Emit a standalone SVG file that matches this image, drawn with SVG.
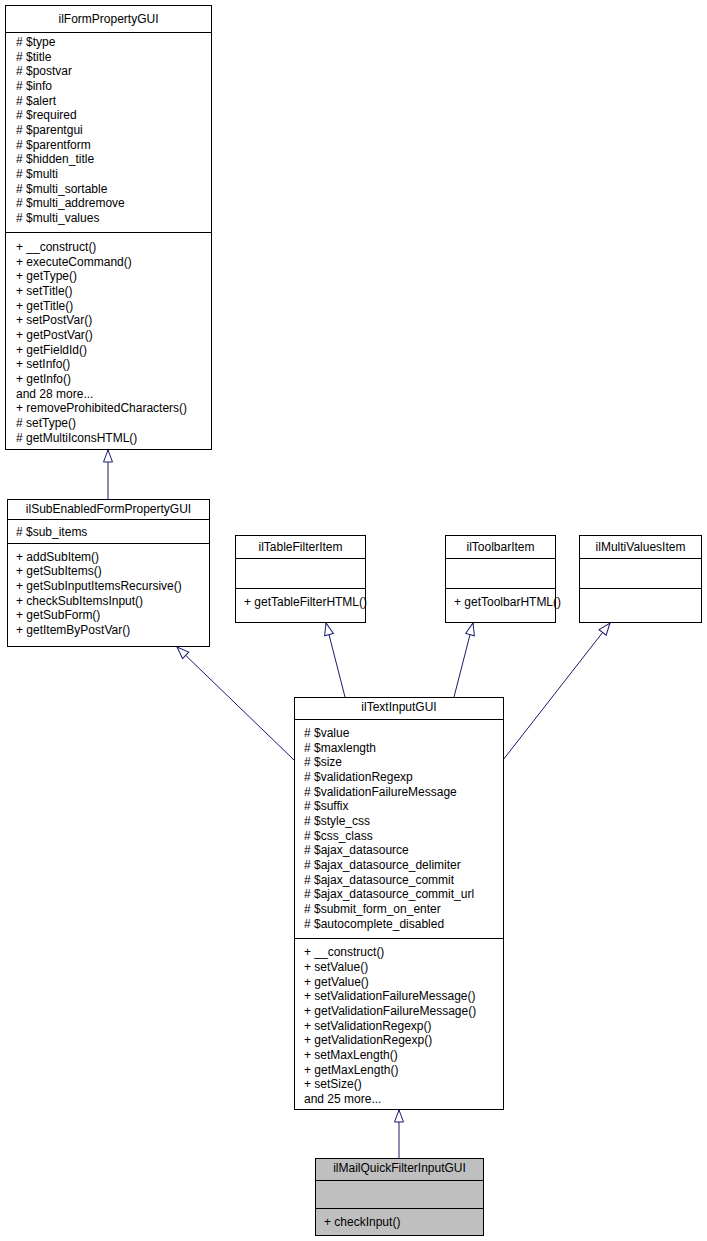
<svg xmlns="http://www.w3.org/2000/svg" width="707" height="1241" viewBox="0 0 707 1241">
<style>
.b{fill:#fff;stroke:#000;stroke-width:1}
.g{fill:#bfbfbf;stroke:#000;stroke-width:1}
text{font-family:"Liberation Sans",Arial,sans-serif;font-size:12px;fill:#000}
.c{text-anchor:middle}
.e{fill:none;stroke:#191970;stroke-width:1}
</style>
<defs>
<marker id="tri" markerUnits="userSpaceOnUse" markerWidth="14" markerHeight="12" refX="13" refY="5.5" orient="auto">
<path d="M1,1 L13,5.5 L1,10 Z" fill="#fff" stroke="#191970" stroke-width="1"/>
</marker>
</defs>
<g id="edges">
<path class="e" d="M108,499 L108,450" marker-end="url(#tri)"/>
<path class="e" d="M294,760 L177,647" marker-end="url(#tri)"/>
<path class="e" d="M345,697 L326,623" marker-end="url(#tri)"/>
<path class="e" d="M454,697 L473,623" marker-end="url(#tri)"/>
<path class="e" d="M503,760 L610,623" marker-end="url(#tri)"/>
<path class="e" d="M399,1158 L399,1110" marker-end="url(#tri)"/>
</g>
<g id="ilFormPropertyGUI">
<rect class="b" x="5.5" y="5.5" width="206" height="444"/>
<line x1="5.5" y1="32.5" x2="211.5" y2="32.5" stroke="#000"/>
<line x1="5.5" y1="232.5" x2="211.5" y2="232.5" stroke="#000"/>
<text class="c" x="108.5" y="23">ilFormPropertyGUI</text>
<text x="16" y="46"># $type</text>
<text x="16" y="61"># $title</text>
<text x="16" y="75"># $postvar</text>
<text x="16" y="90"># $info</text>
<text x="16" y="105"># $alert</text>
<text x="16" y="119"># $required</text>
<text x="16" y="134"># $parentgui</text>
<text x="16" y="149"># $parentform</text>
<text x="16" y="163"># $hidden_title</text>
<text x="16" y="178"># $multi</text>
<text x="16" y="193"># $multi_sortable</text>
<text x="16" y="207"># $multi_addremove</text>
<text x="16" y="222"># $multi_values</text>
<text x="16" y="251">+ __construct()</text>
<text x="16" y="266">+ executeCommand()</text>
<text x="16" y="280">+ getType()</text>
<text x="16" y="295">+ setTitle()</text>
<text x="16" y="310">+ getTitle()</text>
<text x="16" y="324">+ setPostVar()</text>
<text x="16" y="339">+ getPostVar()</text>
<text x="16" y="354">+ getFieldId()</text>
<text x="16" y="368">+ setInfo()</text>
<text x="16" y="383">+ getInfo()</text>
<text x="16" y="398">and 28 more...</text>
<text x="16" y="412">+ removeProhibitedCharacters()</text>
<text x="16" y="427"># setType()</text>
<text x="16" y="442"># getMultiIconsHTML()</text>
</g>
<g id="ilSubEnabledFormPropertyGUI">
<rect class="b" x="7.5" y="499.5" width="202" height="147"/>
<line x1="7.5" y1="519.5" x2="209.5" y2="519.5" stroke="#000"/>
<line x1="7.5" y1="543.5" x2="209.5" y2="543.5" stroke="#000"/>
<text class="c" x="108.5" y="513">ilSubEnabledFormPropertyGUI</text>
<text x="16" y="536"># $sub_items</text>
<text x="16" y="561">+ addSubItem()</text>
<text x="16" y="575">+ getSubItems()</text>
<text x="16" y="590">+ getSubInputItemsRecursive()</text>
<text x="16" y="605">+ checkSubItemsInput()</text>
<text x="16" y="619">+ getSubForm()</text>
<text x="16" y="634">+ getItemByPostVar()</text>
</g>
<g id="ilTableFilterItem">
<rect class="b" x="235.5" y="535.5" width="130" height="87"/>
<line x1="235.5" y1="558.5" x2="365.5" y2="558.5" stroke="#000"/>
<line x1="235.5" y1="588.5" x2="365.5" y2="588.5" stroke="#000"/>
<text class="c" x="300.5" y="551">ilTableFilterItem</text>
<text x="244" y="606">+ getTableFilterHTML()</text>
</g>
<g id="ilToolbarItem">
<rect class="b" x="445.5" y="535.5" width="110" height="87"/>
<line x1="445.5" y1="558.5" x2="555.5" y2="558.5" stroke="#000"/>
<line x1="445.5" y1="588.5" x2="555.5" y2="588.5" stroke="#000"/>
<text class="c" x="500.5" y="551">ilToolbarItem</text>
<text x="454" y="606">+ getToolbarHTML()</text>
</g>
<g id="ilMultiValuesItem">
<rect class="b" x="579.5" y="535.5" width="122" height="87"/>
<line x1="579.5" y1="558.5" x2="701.5" y2="558.5" stroke="#000"/>
<line x1="579.5" y1="588.5" x2="701.5" y2="588.5" stroke="#000"/>
<text class="c" x="640.5" y="551">ilMultiValuesItem</text>
</g>
<g id="ilTextInputGUI">
<rect class="b" x="294.5" y="697.5" width="209" height="412"/>
<line x1="294.5" y1="719.5" x2="503.5" y2="719.5" stroke="#000"/>
<line x1="294.5" y1="938.5" x2="503.5" y2="938.5" stroke="#000"/>
<text class="c" x="399" y="711">ilTextInputGUI</text>
<text x="304" y="737"># $value</text>
<text x="304" y="752"># $maxlength</text>
<text x="304" y="766"># $size</text>
<text x="304" y="781"># $validationRegexp</text>
<text x="304" y="796"># $validationFailureMessage</text>
<text x="304" y="810"># $suffix</text>
<text x="304" y="825"># $style_css</text>
<text x="304" y="840"># $css_class</text>
<text x="304" y="854"># $ajax_datasource</text>
<text x="304" y="869"># $ajax_datasource_delimiter</text>
<text x="304" y="884"># $ajax_datasource_commit</text>
<text x="304" y="898"># $ajax_datasource_commit_url</text>
<text x="304" y="913"># $submit_form_on_enter</text>
<text x="304" y="928"># $autocomplete_disabled</text>
<text x="304" y="956">+ __construct()</text>
<text x="304" y="971">+ setValue()</text>
<text x="304" y="986">+ getValue()</text>
<text x="304" y="1000">+ setValidationFailureMessage()</text>
<text x="304" y="1015">+ getValidationFailureMessage()</text>
<text x="304" y="1030">+ setValidationRegexp()</text>
<text x="304" y="1044">+ getValidationRegexp()</text>
<text x="304" y="1059">+ setMaxLength()</text>
<text x="304" y="1074">+ getMaxLength()</text>
<text x="304" y="1088">+ setSize()</text>
<text x="304" y="1103">and 25 more...</text>
</g>
<g id="ilMailQuickFilterInputGUI">
<rect class="g" x="315.5" y="1158.5" width="168" height="77"/>
<line x1="315.5" y1="1180.5" x2="483.5" y2="1180.5" stroke="#000"/>
<line x1="315.5" y1="1208.5" x2="483.5" y2="1208.5" stroke="#000"/>
<text class="c" x="399.5" y="1172">ilMailQuickFilterInputGUI</text>
<text x="324" y="1226">+ checkInput()</text>
</g>
</svg>
